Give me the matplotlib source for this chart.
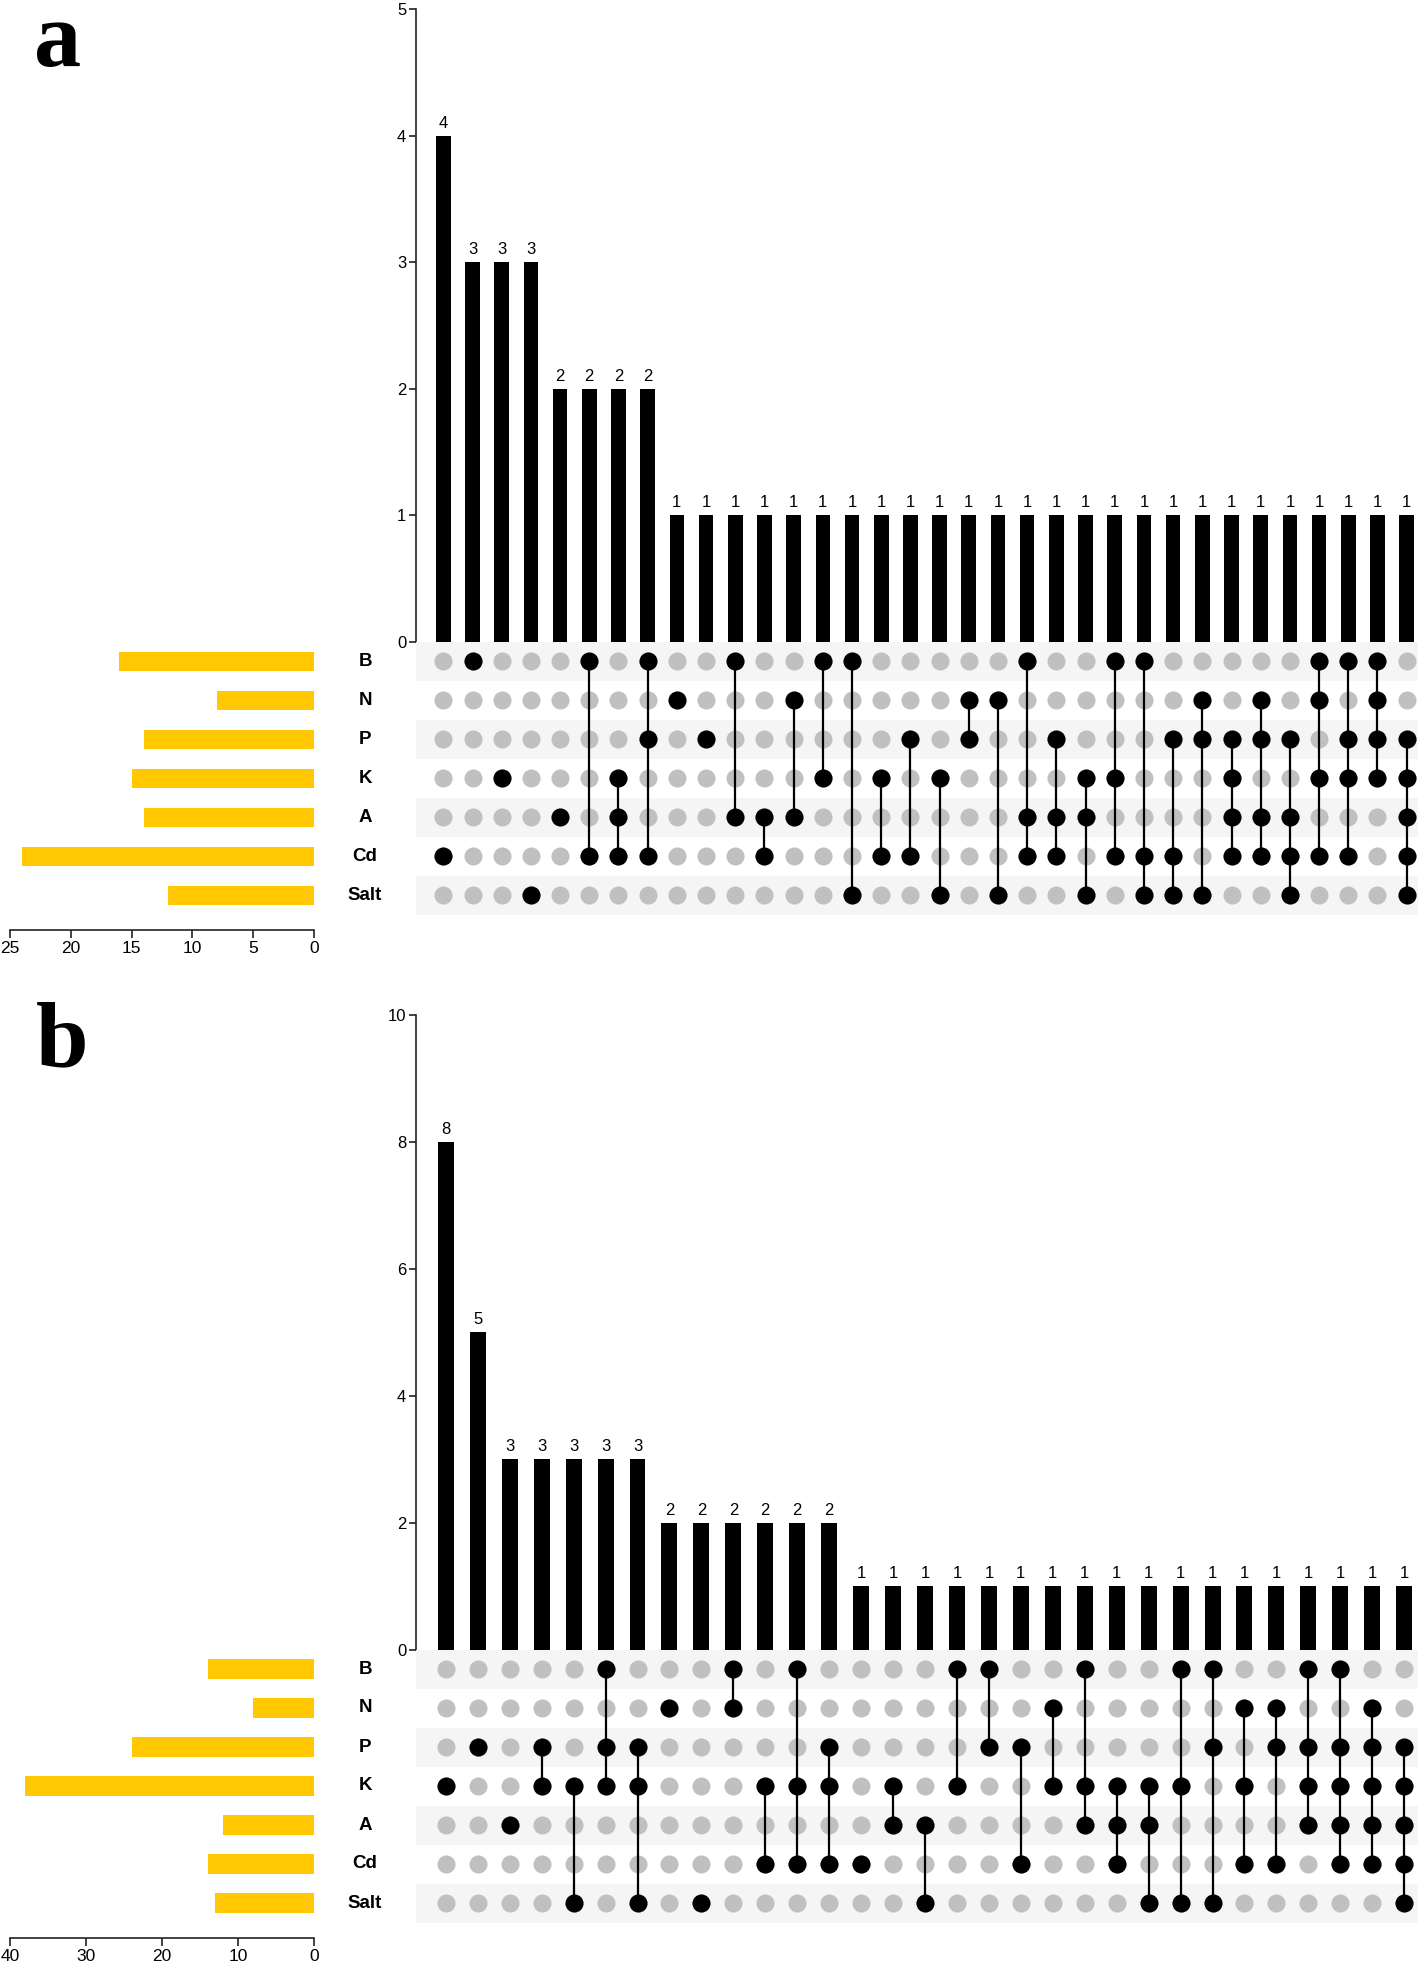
import numpy as np
import matplotlib
matplotlib.use('Agg')
import matplotlib.pyplot as plt
import matplotlib.transforms as mtransforms

plt.rcParams['font.family'] = ['Liberation Sans Narrow', 'Liberation Sans', 'DejaVu Sans']

# 集合名（行の順番）
SETS = ['B', 'N', 'P', 'K', 'A', 'Cd', 'Salt']

# パネル a：交差の構成と件数
a_combos = [
    ['Cd'], ['B'], ['K'], ['Salt'], ['A'], ['B', 'Cd'], ['K', 'A', 'Cd'], ['B', 'P', 'Cd'],
    ['N'], ['P'], ['B', 'A'], ['A', 'Cd'], ['N', 'A'], ['B', 'K'], ['B', 'Salt'], ['K', 'Cd'],
    ['P', 'Cd'], ['K', 'Salt'], ['N', 'P'], ['N', 'Salt'], ['B', 'A', 'Cd'], ['P', 'A', 'Cd'],
    ['K', 'A', 'Salt'], ['B', 'K', 'Cd'], ['B', 'Cd', 'Salt'], ['P', 'Cd', 'Salt'],
    ['N', 'P', 'Salt'], ['P', 'K', 'A', 'Cd'], ['N', 'P', 'A', 'Cd'], ['P', 'A', 'Cd', 'Salt'],
    ['B', 'N', 'K', 'Cd'], ['B', 'P', 'K', 'Cd'], ['B', 'N', 'P', 'K'], ['P', 'K', 'A', 'Cd', 'Salt'],
]
a_counts = [4, 3, 3, 3, 2, 2, 2, 2, 1, 1, 1, 1, 1, 1, 1, 1, 1,
            1, 1, 1, 1, 1, 1, 1, 1, 1, 1, 1, 1, 1, 1, 1, 1, 1]
a_set_sizes = [16, 8, 14, 15, 14, 24, 12]

# パネル b
b_combos = [
    ['K'], ['P'], ['A'], ['P', 'K'], ['K', 'Salt'], ['B', 'P', 'K'], ['P', 'K', 'Salt'],
    ['N'], ['Salt'], ['B', 'N'], ['K', 'Cd'], ['B', 'K', 'Cd'], ['P', 'K', 'Cd'],
    ['Cd'], ['K', 'A'], ['A', 'Salt'], ['B', 'K'], ['B', 'P'], ['P', 'Cd'], ['N', 'K'],
    ['B', 'K', 'A'], ['K', 'A', 'Cd'], ['K', 'A', 'Salt'], ['B', 'K', 'Salt'], ['B', 'P', 'Salt'],
    ['N', 'K', 'Cd'], ['N', 'P', 'Cd'], ['B', 'P', 'K', 'A'], ['B', 'P', 'K', 'A', 'Cd'],
    ['N', 'P', 'K', 'A', 'Cd'], ['P', 'K', 'A', 'Cd', 'Salt'],
]
b_counts = [8, 5, 3, 3, 3, 3, 3, 2, 2, 2, 2, 2, 2, 1, 1, 1,
            1, 1, 1, 1, 1, 1, 1, 1, 1, 1, 1, 1, 1, 1, 1]
b_set_sizes = [14, 8, 24, 38, 12, 14, 13]

W, H = 1418, 1963
ROW = 39          # 行の高さ(px)
YELLOW = '#FFC800'
GRAY = '#C0C0C0'
STRIPE = '#F5F5F5'

fig = plt.figure(figsize=(W / 100, H / 100), dpi=100)


def add_ax(x0, y0, x1, y1):
    """ピクセル座標(上原点)で軸を追加"""
    return fig.add_axes([x0 / W, 1 - y1 / H, (x1 - x0) / W, (y1 - y0) / H])


def draw_panel(letter, combos, counts, set_sizes, ymax, yticks, smax, sticks,
               top_y, zero_y, col0, col_last, letter_xy):
    n = len(combos)
    step = (col_last - col0) / (n - 1)
    xlo = (417 - col0) / step
    xhi = (1418 - col0) / step
    mat_bot = zero_y + ROW * len(SETS)
    x = np.arange(n)

    # 交差サイズの棒グラフ
    ax = add_ax(416, top_y, 1418, zero_y)
    ax.bar(x, counts, width=0.5, color='black')
    for xi, c in zip(x, counts):
        ax.text(xi, c + ymax * 0.008, str(c), ha='center', va='bottom', fontsize=12)
    ax.set_xlim(xlo, xhi)
    ax.set_ylim(0, ymax)
    ax.set_yticks(yticks)
    ax.set_xticks([])
    for s in ['top', 'right', 'bottom']:
        ax.spines[s].set_visible(False)
    ax.spines['left'].set_color('#222222')
    ax.spines['left'].set_linewidth(1.2)
    ax.tick_params(axis='y', length=5, width=1.2, color='#222222', labelsize=12, pad=2)

    # ドット行列
    am = add_ax(416, zero_y, 1418, mat_bot)
    for i in range(len(SETS)):
        if i % 2 == 0:
            am.axhspan(i - 0.5, i + 0.5, color=STRIPE, lw=0)
    gx, gy = np.meshgrid(x, np.arange(len(SETS)))
    am.plot(gx.ravel(), gy.ravel(), 'o', color=GRAY, ms=13, mew=0)
    for xi, combo in zip(x, combos):
        rows = [SETS.index(s) for s in combo]
        if len(rows) > 1:
            am.plot([xi, xi], [min(rows), max(rows)], color='black', lw=1.6)
        am.plot([xi] * len(rows), rows, 'o', color='black', ms=13, mew=0)
    am.set_xlim(xlo, xhi)
    am.set_ylim(len(SETS) - 0.5, -0.5)
    am.axis('off')

    # 集合名
    tr = mtransforms.blended_transform_factory(fig.transFigure, am.transData)
    for i, s in enumerate(SETS):
        am.text(365 / W, i, s, transform=tr, ha='center', va='center',
                fontsize=13.5, fontweight='bold')

    # 集合サイズ
    asz = add_ax(10, zero_y, 314, mat_bot)
    asz.barh(np.arange(len(SETS)), set_sizes, height=0.5, color=YELLOW)
    asz.set_xlim(smax, 0)
    asz.set_ylim(len(SETS) - 0.5, -0.5)
    asz.set_xticks(sticks)
    asz.set_yticks([])
    for s in ['top', 'right', 'left']:
        asz.spines[s].set_visible(False)
    asz.spines['bottom'].set_position(('outward', 11))
    asz.spines['bottom'].set_color('#222222')
    asz.spines['bottom'].set_linewidth(1.2)
    asz.tick_params(axis='x', length=6, width=1.2, color='#222222', labelsize=12.5, pad=2)

    fig.text(letter_xy[0] / W, 1 - letter_xy[1] / H, letter, fontsize=68,
             fontweight='bold', family=['Liberation Serif', 'DejaVu Serif'],
             ha='left', va='baseline')


draw_panel('a', a_combos, a_counts, a_set_sizes, 5, [0, 1, 2, 3, 4, 5],
           25, [0, 5, 10, 15, 20, 25],
           top_y=9, zero_y=642, col0=444.3, col_last=1406.7, letter_xy=(34, 66))
draw_panel('b', b_combos, b_counts, b_set_sizes, 10, [0, 2, 4, 6, 8, 10],
           40, [0, 10, 20, 30, 40],
           top_y=1015, zero_y=1649.5, col0=446.8, col_last=1404.2, letter_xy=(36, 1066))

fig.savefig('out.png', dpi=100)
